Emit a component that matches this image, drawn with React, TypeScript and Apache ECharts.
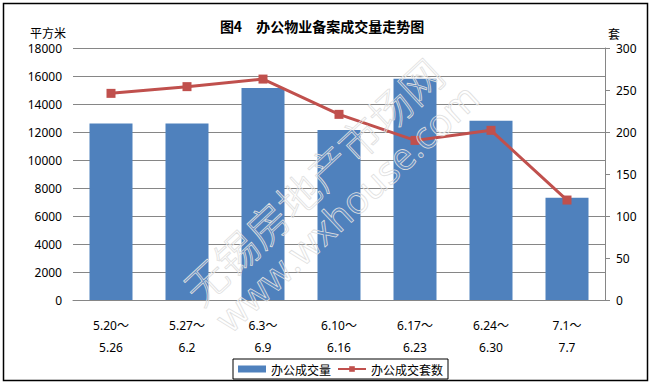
import React, { useEffect, useRef } from "react";
import * as echarts from "echarts";

const categories = ["5.20～\n5.26", "5.27～\n6.2", "6.3～\n6.9", "6.10～\n6.16", "6.17～\n6.23", "6.24～\n6.30", "7.1～\n7.7"];
const areaValues = [12600, 12600, 15150, 12150, 15800, 12800, 7300];
const unitValues = [246, 254, 263, 221, 190, 202, 119];
const seriesNames = ["办公成交量", "办公成交套数"];
const titleText = "图4　办公物业备案成交量走势图";
const leftUnit = "平方米";
const rightUnit = "套";
const watermarkCn = "无锡房地产市场网";
const watermarkUrl = "www.wxhouse.com";

const FONT = "'Noto Sans', 'Noto Sans CJK SC', sans-serif";
const CJK = "'Noto Sans CJK SC', sans-serif";

export default function App() {
  const ref = useRef<HTMLDivElement>(null);
  useEffect(() => {
    if (!ref.current) return;
    const chart = echarts.init(ref.current, null, { renderer: "svg" });
    chart.setOption({
      animation: false,
      backgroundColor: "#fff",
      textStyle: { fontFamily: FONT, color: "#000" },
      grid: { left: 73, right: 46, top: 48, bottom: 85, containLabel: false },
      legend: {
        left: 233,
        top: 359,
        padding: [4, 5, 4, 5],
        borderColor: "#000",
        borderWidth: 1,
        itemGap: 6,
        itemWidth: 28,
        itemHeight: 7,
        textStyle: { fontSize: 12, color: "#000", fontFamily: CJK },
        data: [
          { name: seriesNames[0], icon: "rect" },
          { name: seriesNames[1] },
        ],
      },
      xAxis: {
        type: "category",
        data: categories,
        axisLine: { show: true, lineStyle: { color: "#868686", width: 1 } },
        axisTick: { show: false },
        axisLabel: { fontSize: 12, color: "#000", lineHeight: 22, margin: 14 },
      },
      yAxis: [
        {
          type: "value",
          min: 0,
          max: 18000,
          interval: 2000,
          axisLine: { show: false },
          axisTick: { show: false },
          axisLabel: { fontSize: 12, color: "#000", margin: 11, formatter: (v: number) => String(v) },
          splitLine: { lineStyle: { color: "#868686", width: 1 } },
        },
        {
          type: "value",
          min: 0,
          max: 300,
          interval: 50,
          position: "right",
          axisLine: { show: true, lineStyle: { color: "#868686", width: 1 } },
          axisTick: { show: true, length: 5, lineStyle: { color: "#868686" } },
          axisLabel: { fontSize: 12, color: "#000", margin: 11, formatter: (v: number) => String(v) },
          splitLine: { show: false },
        },
      ],
      series: [
        {
          name: seriesNames[0],
          type: "bar",
          data: areaValues,
          barWidth: 43,
          itemStyle: { color: "#4F81BD" },
          yAxisIndex: 0,
        },
        {
          name: seriesNames[1],
          type: "line",
          data: unitValues,
          yAxisIndex: 1,
          symbol: "rect",
          symbolSize: 9,
          lineStyle: { color: "#C0504D", width: 3 },
          itemStyle: { color: "#C0504D" },
        },
      ],
      graphic: [
        {
          type: "rect",
          shape: { x: 3.5, y: 3.5, width: 644, height: 377 },
          style: { fill: "none", stroke: "#000", lineWidth: 1.5 },
          z: 200,
          silent: true,
        },
        {
          type: "text",
          x: 322,
          y: 26,
          style: {
            text: titleText,
            fontSize: 14,
            fontWeight: "bold",
            fontFamily: CJK,
            fill: "#000",
            align: "center",
            verticalAlign: "middle",
          },
        },
        {
          type: "text",
          x: 48,
          y: 32,
          style: {
            text: leftUnit,
            fontSize: 12,
            fontFamily: CJK,
            fill: "#000",
            align: "center",
            verticalAlign: "middle",
          },
          z: 150,
        },
        {
          type: "text",
          x: 614,
          y: 33,
          style: {
            text: rightUnit,
            fontSize: 12,
            fontFamily: CJK,
            fill: "#000",
            align: "center",
            verticalAlign: "middle",
          },
          z: 150,
        },
        {
          type: "text",
          x: 312,
          y: 180,
          rotation: 0.75,
          style: {
            text: watermarkCn,
            fontSize: 42,
            fontFamily: CJK,
            fontWeight: 300,
            fill: "rgba(255,255,255,0.1)",
            stroke: "#dedede",
            lineWidth: 0.8,
            align: "center",
            verticalAlign: "middle",
          },
          z: 120,
          silent: true,
        },
        {
          type: "text",
          x: 346,
          y: 207,
          rotation: 0.75,
          style: {
            text: watermarkUrl,
            fontSize: 38,
            fontFamily: "'Open Sans', sans-serif",
            fill: "rgba(255,255,255,0.1)",
            stroke: "#dedede",
            lineWidth: 0.8,
            align: "center",
            verticalAlign: "middle",
          },
          z: 120,
          silent: true,
        },
      ],
    });
    return () => chart.dispose();
  }, []);
  return (
    <div
      ref={ref}
      style={{ position: "fixed", left: 0, top: 0, width: 651, height: 385 }}
    />
  );
}
